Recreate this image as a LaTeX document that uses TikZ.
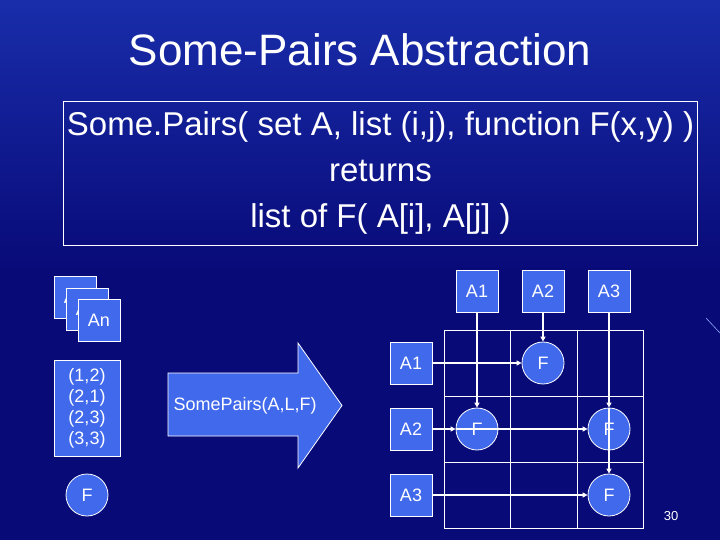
\documentclass[tikz,border=0pt]{standalone}
\usepackage{fontspec}
\setmainfont{Liberation Sans}
\usetikzlibrary{arrows.meta,calc}
\definecolor{bgA}{RGB}{8,10,120}
\definecolor{bgB}{RGB}{25,45,170}
\definecolor{boxblue}{RGB}{65,105,235}
\begin{document}
\begin{tikzpicture}[x=1pt,y=-1pt,
  sq/.style={draw=white,fill=boxblue,line width=0.8pt,minimum width=42pt,minimum height=42pt,inner sep=0pt,text=white,font=\fontsize{18}{20}\selectfont},
  fc/.style={draw=white,fill=boxblue,line width=0.8pt,circle,minimum size=42pt,inner sep=0pt,text=white,font=\fontsize{18}{20}\selectfont},
  conn/.style={white,line width=1.5pt,-{Triangle[length=5pt,width=5pt]}},
  gridl/.style={white,line width=0.8pt}]
\shade[top color=bgB,bottom color=bgA,middle color=bgA] (0,0) rectangle (720,540);
\useasboundingbox (0,0) rectangle (720,540);
\draw[boxblue!60,line width=0.6pt] (706,318) -- (720,333);
\node[text=white,font=\fontsize{44}{48}\selectfont] (title) at (360,50) {Some-Pairs Abstraction};
\node[draw=white,line width=0.8pt,minimum width=633pt,minimum height=144pt,text=white,align=center,font=\fontsize{33}{46}\selectfont] (def) at (380.5,173) {Some.Pairs( set A, list (i,j), function F(x,y) )\\returns\\list of F( A[i], A[j] )};
% left stack
\node[sq] (s1) at (75,297.5) {A1};
\node[sq] (s2) at (87,309.5) {A2};
\node[sq] (s3) at (99,320.5) {An};
\node[sq,minimum width=66pt,minimum height=96pt,align=center,font=\fontsize{18}{21}\selectfont] (list) at (87,408) {(1,2)\\(2,1)\\(2,3)\\(3,3)};
\node[fc] (lf) at (87,495) {F};
% big arrow
\draw[white,fill=boxblue,line width=0.8pt] (168,373) -- (298,373) -- (298,343) -- (342,405.5) -- (298,468) -- (298,436) -- (168,436) -- cycle;
\node[anchor=west,text=white,font=\fontsize{18}{20}\selectfont] (lbl) at (170,406) {SomePairs(A,L,F)};
% grid
\draw[gridl] (444,330) rectangle (643,528);
\draw[gridl] (510,330) -- (510,528) (577,330) -- (577,528) (444,396) -- (643,396) (444,462) -- (643,462);
\node[sq] (c1) at (477,291) {A1};
\node[sq] (c2) at (543,291) {A2};
\node[sq] (c3) at (609,291) {A3};
\node[sq] (r1) at (411,363) {A1};
\node[sq] (r2) at (411,429) {A2};
\node[sq] (r3) at (411,495) {A3};
\node[fc] (f12) at (543,363) {F};
\node[fc] (f21) at (477,429) {F};
\node[fc] (f23) at (609,429) {F};
\node[fc] (f33) at (609,495) {F};
\draw[conn] (c1) -- (f21);
\draw[conn] (c2) -- (f12);
\draw[conn] (c3) -- (f23);
\draw[conn] (f23.north) -- (f33);
\draw[conn] (r1) -- (f12);
\draw[conn] (r2) -- (f21);
\draw[conn] (f21.west) -- (f23);
\draw[conn] (r3) -- (f33);
\node[text=white,font=\fontsize{13}{15}\selectfont] (pg) at (671,516) {30};
\end{tikzpicture}
\end{document}
